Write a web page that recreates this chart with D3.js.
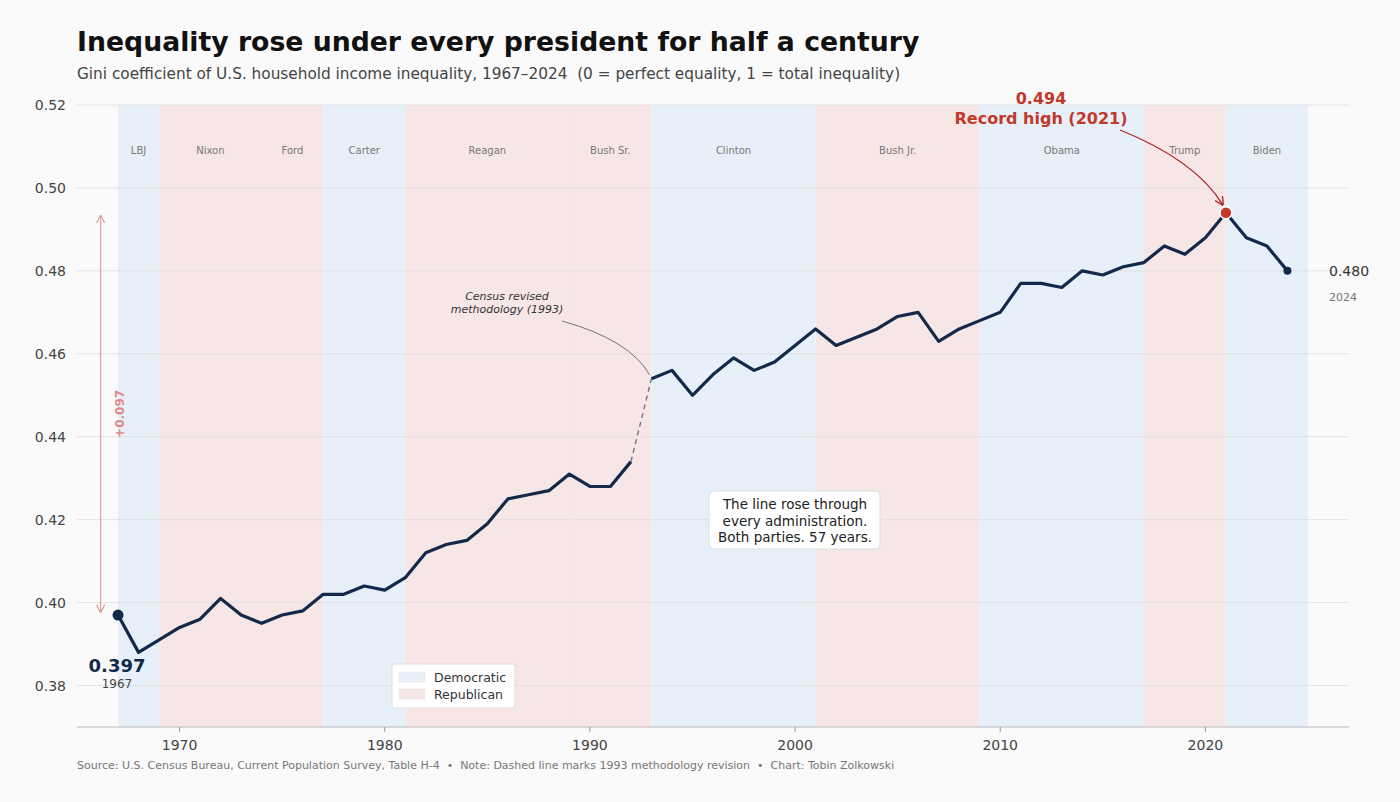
<!DOCTYPE html>
<html><head><meta charset="utf-8">
<script src="https://cdn.jsdelivr.net/npm/d3@7/dist/d3.min.js"></script>
<style>body{margin:0;background:#fafafa;font-family:"DejaVu Sans",sans-serif} text{white-space:pre}</style>
</head><body><svg id="c" width="1400" height="802"></svg>
<script>
const years = d3.range(1967, 2025);
const gini = [.397,.388,.391,.394,.396,.401,.397,.395,.397,.398,.402,.402,.404,.403,.406,.412,.414,.415,.419,.425,.426,.427,.431,.428,.428,.434,
.454,.456,.450,.455,.459,.456,.458,.462,.466,.462,.464,.466,.469,.470,.463,.466,.468,.470,.477,.477,.476,.480,.479,.481,.482,.486,.484,.488,.494,.488,.486,.480];
const presidents = ["LBJ","Nixon","Ford","Carter","Reagan","Bush Sr.","Clinton","Bush Jr.","Obama","Trump","Biden"];
const presStart = [1967,1969,1974,1977,1981,1989,1993,2001,2009,2017,2021];
const presEnd   = [1969,1974,1977,1981,1989,1993,2001,2009,2017,2021,2025];
const presParty = ["D","R","R","D","R","R","D","R","D","R","D"];
const yTicks = [0.38,0.40,0.42,0.44,0.46,0.48,0.50,0.52];
const xTicks = [1970,1980,1990,2000,2010,2020];

const svg = d3.select("#c");
const x = d3.scaleLinear().domain([1965, 2027]).range([77, 1349]);
const y = d3.scaleLinear().domain([0.37, 0.52]).range([727, 105]);
const data = years.map((yr,i)=>({yr, v:gini[i]}));

presidents.forEach((p,i)=>{
  svg.append("rect").attr("x",x(presStart[i])).attr("width",x(presEnd[i])-x(presStart[i])+(i<10&&presParty[i]===presParty[i+1]?1:0))
    .attr("y",y(0.52)).attr("height",y(0.37)-y(0.52))
    .attr("fill",presParty[i]==="D"?"#e7f0f8":"#f7e6e6");
});
presidents.forEach((p,i)=>{
  svg.append("text").attr("x",x((presStart[i]+presEnd[i])/2)).attr("y",154).attr("text-anchor","middle")
    .attr("font-size",10).attr("fill","#777").text(p);
});
yTicks.forEach(t=>{
  svg.append("line").attr("x1",77).attr("x2",1349).attr("y1",y(t)).attr("y2",y(t)).attr("stroke","#ddd").attr("stroke-width",0.8);
  svg.append("text").attr("x",66).attr("y",y(t)+5).attr("text-anchor","end").attr("font-size",14).attr("fill","#444").text(t.toFixed(2));
});
svg.append("line").attr("x1",77).attr("x2",1349).attr("y1",727).attr("y2",727).attr("stroke","#bbb");
xTicks.forEach(t=>{
  svg.append("line").attr("x1",x(t)).attr("x2",x(t)).attr("y1",727).attr("y2",732).attr("stroke","#999");
  svg.append("text").attr("x",x(t)).attr("y",750).attr("text-anchor","middle").attr("font-size",14).attr("fill","#444").text(t);
});

const line = d3.line().x(d=>x(d.yr)).y(d=>y(d.v));
svg.append("path").datum(data.filter(d=>d.yr<=1992)).attr("d",line).attr("fill","none").attr("stroke","#13294b").attr("stroke-width",3.2).attr("stroke-linejoin","round");
svg.append("path").datum(data.filter(d=>d.yr>=1993)).attr("d",line).attr("fill","none").attr("stroke","#13294b").attr("stroke-width",3.2).attr("stroke-linejoin","round");
svg.append("path").datum(data.filter(d=>d.yr===1992||d.yr===1993)).attr("d",line).attr("fill","none").attr("stroke","#777a8a").attr("stroke-width",1.5).attr("stroke-dasharray","5,4");

svg.append("circle").attr("cx",x(1967)).attr("cy",y(.397)).attr("r",5.5).attr("fill","#13294b");
svg.append("circle").attr("cx",x(2024)).attr("cy",y(.480)).attr("r",4).attr("fill","#13294b");
svg.append("circle").attr("cx",x(2021)).attr("cy",y(.494)).attr("r",6).attr("fill","#c0392b").attr("stroke","#fff").attr("stroke-width",1.5);

svg.append("text").attr("x",117).attr("y",672).attr("text-anchor","middle").attr("font-size",18).attr("font-weight","bold").attr("fill","#13294b").text("0.397");
svg.append("text").attr("x",117).attr("y",688).attr("text-anchor","middle").attr("font-size",12).attr("fill","#444").text("1967");
svg.append("text").attr("x",1329).attr("y",276).attr("font-size",14).attr("fill","#333").text("0.480");
svg.append("text").attr("x",1329).attr("y",301).attr("font-size",11).attr("fill","#777").text("2024");

svg.append("defs").html('<marker id="ap" viewBox="0 0 10 10" refX="9" refY="5" markerWidth="7" markerHeight="7" orient="auto-start-reverse"><path d="M0,0L10,5L0,10" fill="none" stroke="#e0a0a0" stroke-width="1.5"/></marker>'+
 '<marker id="ad" viewBox="0 0 10 10" refX="9" refY="5" markerWidth="7" markerHeight="7" orient="auto"><path d="M0,0L10,5L0,10" fill="none" stroke="#b22222" stroke-width="1.5"/></marker>');
svg.append("text").attr("x",1041).attr("y",104).attr("text-anchor","middle").attr("font-size",16).attr("font-weight","bold").attr("fill","#c0392b").text("0.494");
svg.append("text").attr("x",1041).attr("y",124).attr("text-anchor","middle").attr("font-size",16).attr("font-weight","bold").attr("fill","#c0392b").text("Record high (2021)");
svg.append("path").attr("d",`M1120,130 Q1195,160 ${x(2021)-3},${y(.494)-8}`).attr("fill","none").attr("stroke","#b22222").attr("stroke-width",1.3).attr("marker-end","url(#ad)");

svg.append("line").attr("x1",x(1966.15)).attr("x2",x(1966.15)).attr("y1",y(.397)-3).attr("y2",y(.494)+3).attr("stroke","#e0a0a0").attr("stroke-width",1.2)
  .attr("marker-start","url(#ap)").attr("marker-end","url(#ap)");
svg.append("text").attr("transform",`translate(124,${y(.4455)}) rotate(-90)`).attr("text-anchor","middle").attr("font-size",12).attr("font-weight","bold").attr("fill","#e08a8a").text("+0.097");

svg.append("text").attr("x",507).attr("y",300).attr("text-anchor","middle").attr("font-size",11).attr("font-style","italic").attr("fill","#333").text("Census revised");
svg.append("text").attr("x",507).attr("y",313).attr("text-anchor","middle").attr("font-size",11).attr("font-style","italic").attr("fill","#333").text("methodology (1993)");
svg.append("path").attr("d",`M562,321 Q630,340 ${x(1993)-2},${y(.454)-4}`).attr("fill","none").attr("stroke","#666").attr("stroke-width",0.9);

svg.append("rect").attr("x",709).attr("y",491).attr("width",171).attr("height",58).attr("rx",5).attr("fill","#fff").attr("stroke","#ddd");
["The line rose through","every administration.","Both parties. 57 years."].forEach((t,i)=>
  svg.append("text").attr("x",795).attr("y",509+i*16.5).attr("text-anchor","middle").attr("font-size",13.5).attr("fill","#222").text(t));

svg.append("rect").attr("x",392).attr("y",664).attr("width",123).attr("height",44).attr("fill","#fff").attr("stroke","#ddd").attr("rx",2);
[["Democratic","#e7f0f8"],["Republican","#f7e6e6"]].forEach((l,i)=>{
  svg.append("rect").attr("x",399).attr("y",672+i*17).attr("width",26).attr("height",10).attr("fill",l[1]).attr("stroke","#e0e0e0").attr("stroke-width",0.5);
  svg.append("text").attr("x",434).attr("y",682+i*17).attr("font-size",12.5).attr("fill","#333").text(l[0]);
});

svg.append("text").attr("x",77).attr("y",51).attr("font-size",26.7).attr("font-weight","bold").attr("fill","#111").text("Inequality rose under every president for half a century");
svg.append("text").attr("x",77).attr("y",79).attr("font-size",15.3).attr("fill","#444").text("Gini coefficient of U.S. household income inequality, 1967–2024  (0 = perfect equality, 1 = total inequality)");
svg.append("text").attr("x",77).attr("y",769).attr("font-size",11).attr("fill","#777").text("Source: U.S. Census Bureau, Current Population Survey, Table H-4  •  Note: Dashed line marks 1993 methodology revision  •  Chart: Tobin Zolkowski");
</script></body></html>
